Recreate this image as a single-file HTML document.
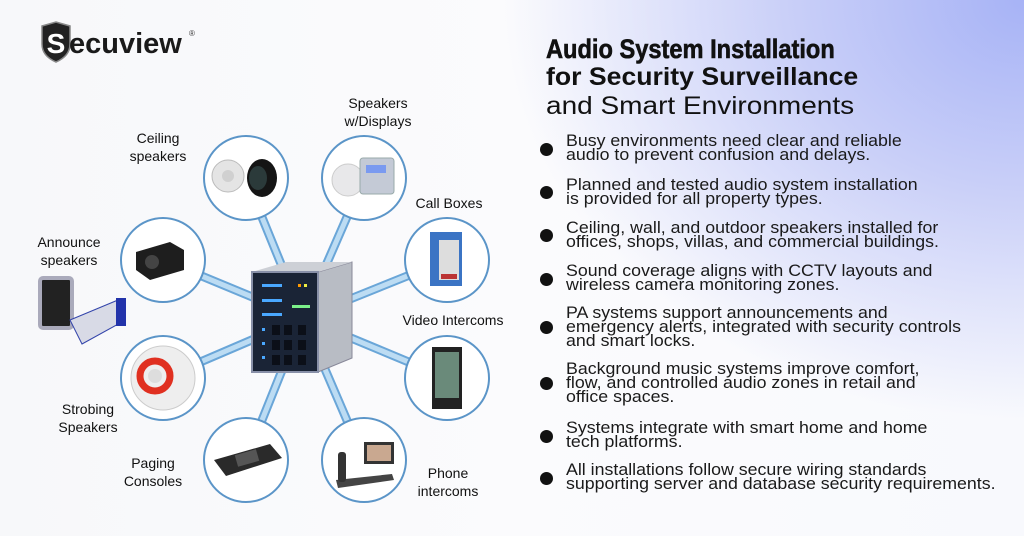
<!DOCTYPE html>
<html><head><meta charset="utf-8"><style>
*{margin:0;padding:0}
body{width:1024px;height:536px;overflow:hidden;position:relative;font-family:"Liberation Sans",sans-serif;
background:radial-gradient(ellipse 520px 420px at 1024px 0px,#a7b3f6 0%,#c9cff8 45%,rgba(240,242,252,0) 100%),linear-gradient(90deg,#f7f8fa 0%,#fbfbfd 50%,#f8f9fd 100%);}
.t{position:absolute;left:546px;font-weight:bold;color:#111;font-size:25px;white-space:nowrap;transform-origin:0 0}
.b{position:absolute;left:540px;width:13px;height:13px;border-radius:50%;background:#111}
.p{position:absolute;left:566px;font-size:17px;line-height:14px;color:#1a1a1a;white-space:nowrap;transform-origin:0 0;transform:scaleX(1.045)}
.l{position:absolute;font-size:14px;line-height:18px;text-align:center;color:#111;white-space:nowrap;transform:translateX(-50%)}
</style></head><body>
<svg width="1024" height="536" style="position:absolute;left:0;top:0">
<path d="M42 26 L56 22 L70 26 L70 44 Q70 56 56 62 Q42 56 42 44 Z" fill="#222" stroke="#888" stroke-width="1.5"/>
<text x="56" y="53" font-family="Liberation Sans" font-weight="bold" font-size="28" fill="#fff" text-anchor="middle">S</text>
<text x="69" y="53" font-family="Liberation Sans" font-weight="bold" font-size="29" fill="#1a1a1a">ecuview</text>
<text x="189" y="36" font-family="Liberation Sans" font-size="8" fill="#333">®</text>
<g stroke-linecap="round">
<g stroke="#6aa6d8" stroke-width="9">
<line x1="303" y1="318" x2="246" y2="178"/><line x1="303" y1="318" x2="364" y2="178"/>
<line x1="303" y1="318" x2="163" y2="260"/><line x1="303" y1="318" x2="447" y2="260"/>
<line x1="303" y1="318" x2="163" y2="378"/><line x1="303" y1="318" x2="447" y2="378"/>
<line x1="303" y1="318" x2="246" y2="460"/><line x1="303" y1="318" x2="364" y2="460"/>
</g>
<g stroke="#bcdcf3" stroke-width="5">
<line x1="303" y1="318" x2="246" y2="178"/><line x1="303" y1="318" x2="364" y2="178"/>
<line x1="303" y1="318" x2="163" y2="260"/><line x1="303" y1="318" x2="447" y2="260"/>
<line x1="303" y1="318" x2="163" y2="378"/><line x1="303" y1="318" x2="447" y2="378"/>
<line x1="303" y1="318" x2="246" y2="460"/><line x1="303" y1="318" x2="364" y2="460"/>
</g></g>
<g fill="#fff" stroke="#5b95c8" stroke-width="2">
<circle cx="246" cy="178" r="42"/><circle cx="364" cy="178" r="42"/>
<circle cx="163" cy="260" r="42"/><circle cx="447" cy="260" r="42"/>
<circle cx="163" cy="378" r="42"/><circle cx="447" cy="378" r="42"/>
<circle cx="246" cy="460" r="42"/><circle cx="364" cy="460" r="42"/>
</g>
<circle cx="228" cy="176" r="16" fill="#e4e4e4" stroke="#bbb"/><circle cx="228" cy="176" r="6" fill="#d0d0d0"/>
<ellipse cx="262" cy="178" rx="15" ry="19" fill="#151515"/><ellipse cx="258" cy="178" rx="9" ry="12" fill="#2b3a3a"/>
<circle cx="348" cy="180" r="16" fill="#e8e8ea" stroke="#ccc"/><rect x="360" y="158" width="34" height="36" rx="3" fill="#c4cad6" stroke="#9aa"/><rect x="366" y="165" width="20" height="8" fill="#7a9af0"/>
<path d="M136 252 L170 242 L184 250 L184 270 L150 280 L136 270 Z" fill="#1e1e1e"/><circle cx="152" cy="262" r="7" fill="#444"/>
<rect x="430" y="232" width="32" height="54" fill="#3b74c4"/><rect x="439" y="240" width="20" height="40" fill="#ddd"/><rect x="441" y="274" width="16" height="5" fill="#b33"/>
<circle cx="163" cy="378" r="32" fill="#eee" stroke="#ccc"/><circle cx="155" cy="376" r="15" fill="none" stroke="#e03020" stroke-width="7"/><circle cx="155" cy="376" r="7" fill="#ddd"/>
<rect x="432" y="347" width="30" height="62" fill="#222"/><rect x="435" y="352" width="24" height="46" fill="#6a8a7a"/>
<path d="M214 460 L270 444 L282 458 L226 476 Z" fill="#2a2a2a"/><rect x="236" y="452" width="22" height="12" fill="#555" transform="rotate(-16 247 458)"/>
<rect x="364" y="442" width="30" height="22" fill="#333"/><rect x="367" y="445" width="24" height="16" fill="#c9a890"/><path d="M336 480 L392 474 L394 480 L338 488Z" fill="#444"/><rect x="338" y="452" width="8" height="30" rx="3" fill="#333"/>
<rect x="40" y="278" width="32" height="50" rx="3" fill="#222" stroke="#aab" stroke-width="4"/>
<path d="M70 320 L118 300 L122 322 L82 344 Z" fill="#d8dae6" stroke="#3344aa"/><rect x="116" y="298" width="10" height="28" fill="#2233aa"/>
<path d="M318 272 L352 262 L352 358 L318 372 Z" fill="#b8bcc4" stroke="#889"/>
<path d="M252 272 L286 262 L352 262 L318 272 Z" fill="#cdd0d6"/>
<rect x="252" y="272" width="66" height="100" fill="#1a2436" stroke="#8890a8" stroke-width="2"/>
<g fill="#4aa8ff"><rect x="262" y="284" width="20" height="3"/><rect x="262" y="299" width="20" height="3"/><rect x="262" y="313" width="20" height="3"/><rect x="262" y="328" width="3" height="3"/><rect x="262" y="342" width="3" height="3"/><rect x="262" y="356" width="3" height="3"/></g>
<rect x="292" y="305" width="18" height="3" fill="#7bf08a"/>
<rect x="298" y="284" width="3" height="3" fill="#f90"/><rect x="304" y="284" width="3" height="3" fill="#ee4"/>
<g fill="#0b0f18"><rect x="272" y="325" width="8" height="10"/><rect x="284" y="325" width="8" height="10"/><rect x="298" y="325" width="8" height="10"/><rect x="272" y="340" width="8" height="10"/><rect x="284" y="340" width="8" height="10"/><rect x="298" y="340" width="8" height="10"/><rect x="272" y="355" width="8" height="10"/><rect x="284" y="355" width="8" height="10"/><rect x="298" y="355" width="8" height="10"/></g>
</svg>
<div class="l" style="left:158px;top:129px">Ceiling<br>speakers</div>
<div class="l" style="left:378px;top:94px">Speakers<br>w/Displays</div>
<div class="l" style="left:449px;top:194px">Call Boxes</div>
<div class="l" style="left:69px;top:233px">Announce<br>speakers</div>
<div class="l" style="left:453px;top:311px">Video Intercoms</div>
<div class="l" style="left:88px;top:400px">Strobing<br>Speakers</div>
<div class="l" style="left:153px;top:454px">Paging<br>Consoles</div>
<div class="l" style="left:448px;top:464px">Phone<br>intercoms</div>

<div class="t" style="top:34px;font-family:'Liberation Sans Narrow','Liberation Sans',sans-serif;font-size:27px;transform:scaleX(0.875);-webkit-text-stroke:0.6px #111">Audio System Installation</div>
<div class="t" style="top:63px;transform:scaleX(1.065)">for Security Surveillance</div>
<div class="t" style="top:92px;font-weight:normal;transform:scaleX(1.12)">and Smart Environments</div>

<div class="b" style="top:143px"></div><div class="p" style="top:134px">Busy environments need clear and reliable<br>audio to prevent confusion and delays.</div>
<div class="b" style="top:186px"></div><div class="p" style="top:178px">Planned and tested audio system installation<br>is provided for all property types.</div>
<div class="b" style="top:229px"></div><div class="p" style="top:221px">Ceiling, wall, and outdoor speakers installed for<br>offices, shops, villas, and commercial buildings.</div>
<div class="b" style="top:273px"></div><div class="p" style="top:264px">Sound coverage aligns with CCTV layouts and<br>wireless camera monitoring zones.</div>
<div class="b" style="top:321px"></div><div class="p" style="top:306px">PA systems support announcements and<br>emergency alerts, integrated with security controls<br>and smart locks.</div>
<div class="b" style="top:377px"></div><div class="p" style="top:362px">Background music systems improve comfort,<br>flow, and controlled audio zones in retail and<br>office spaces.</div>
<div class="b" style="top:430px"></div><div class="p" style="top:421px">Systems integrate with smart home and home<br>tech platforms.</div>
<div class="b" style="top:472px"></div><div class="p" style="top:463px">All installations follow secure wiring standards<br>supporting server and database security requirements.</div>
</body></html>
